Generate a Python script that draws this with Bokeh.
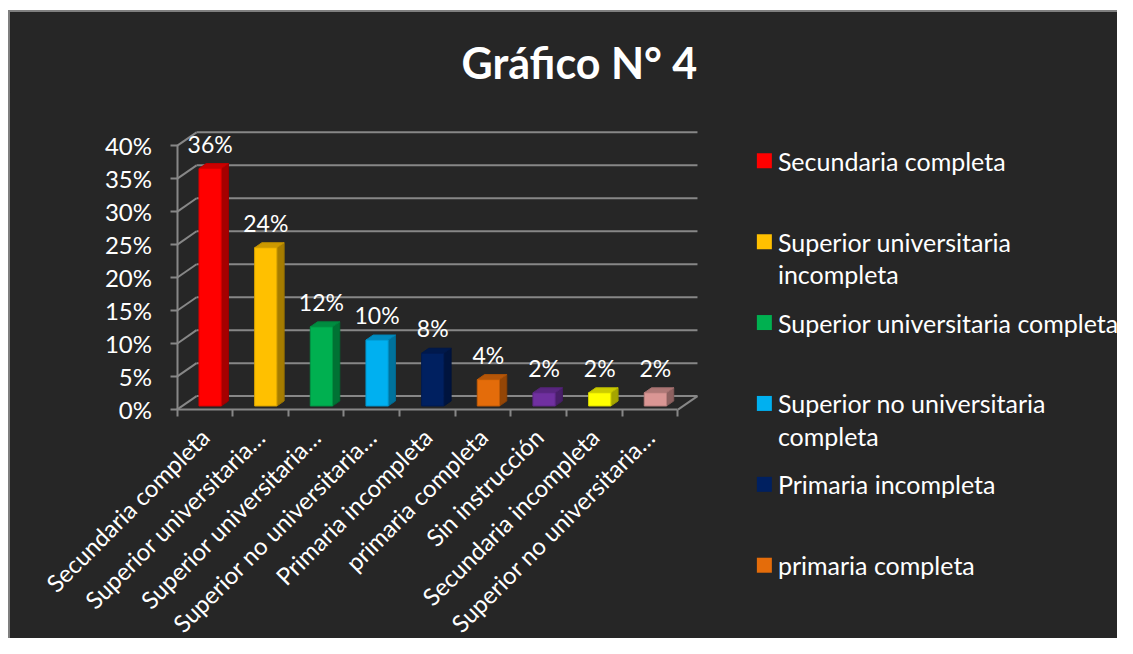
import math
from bokeh.plotting import figure
from bokeh.models import Range1d, FixedTicker, PrintfTickFormatter
from bokeh.embed import file_html
from bokeh.resources import INLINE
from bokeh.core.properties import value

# ---------------- data ----------------
categories = ["Secundaria completa", "Superior universitaria incompleta",
              "Superior universitaria completa", "Superior no universitaria completa",
              "Primaria incompleta", "primaria completa", "Sin instrucción",
              "Secundaria incompleta", "Superior no universitaria incompleta"]
values = [36, 24, 12, 10, 8, 4, 2, 2, 2]
tick_labels = ["Secundaria completa", "Superior universitaria…", "Superior universitaria…",
               "Superior no universitaria…", "Primaria incompleta", "primaria completa",
               "Sin instrucción", "Secundaria incompleta", "Superior no universitaria…"]
colors = ["#FF0000", "#FFC000", "#00B050", "#00B0F0", "#002060",
          "#E46C0A", "#7030A0", "#FFFF00", "#DA9694"]
legend_lines = [["Secundaria completa"],
                ["Superior universitaria", "incompleta"],
                ["Superior universitaria completa"],
                ["Superior no universitaria", "completa"],
                ["Primaria incompleta"],
                ["primaria completa"]]
y_ticks = [0, 5, 10, 15, 20, 25, 30, 35, 40]
title_text = "Gráfico N° 4"

# ---------------- style ----------------
BG = "#262626"
GRID = "#878787"
FONT = "Lato"
ML, MT = 10, 12            # canvas position in the picture (white margin left / top)
W, H = 1107, 626           # canvas size
BORDER = 2                 # grey chart border on left / top
TOP = 80                   # title panel height
PX_X = 55.56               # pixels per category
PX_Y = 6.57                # pixels per percent
AX_X, AX_Y = 176.2, 408.0  # picture position of the front axes corner
DX = 19.5 / PX_X           # depth of the 3D box in x units
DY = 13.5 / PX_Y           # depth of the 3D box in y units
F0, F1 = 0.27, 0.64        # bar depth span
BW = 0.40                  # bar width (category units)


def px_x(px):
    return (px - AX_X) / PX_X


def px_y(py):
    return (AX_Y - py) / PX_Y


def shade(c, f):
    r, g, b = int(c[1:3], 16), int(c[3:5], 16), int(c[5:7], 16)
    return "#%02x%02x%02x" % (int(r * f), int(g * f), int(b * f))


p = figure(width=W + BORDER, height=H + BORDER, output_backend="svg",
           toolbar_location=None,
           x_range=Range1d(px_x(ML), px_x(ML + W)),
           y_range=Range1d(px_y(MT + H), px_y(MT + TOP)),
           min_border_left=0, min_border_right=0, min_border_bottom=0,
           min_border_top=TOP, background_fill_color=BG, border_fill_color=BG,
           outline_line_color=None, margin=(MT - BORDER, 0, 0, ML - BORDER),
           styles={"background-color": BG,
                   "border-left": f"{BORDER}px solid #7f7f7f",
                   "border-top": f"{BORDER}px solid #7f7f7f"})
p.grid.visible = False

n = len(values)

# back wall grid lines, left wall diagonals, floor right edge
gy = [t + DY for t in y_ticks]
p.segment(x0=[DX] * len(y_ticks), y0=gy, x1=[n + DX] * len(y_ticks), y1=gy,
          line_color=GRID, line_width=2)
p.segment(x0=[0] * len(y_ticks), y0=y_ticks, x1=[DX] * len(y_ticks), y1=gy,
          line_color=GRID, line_width=2)
p.segment(x0=[n], y0=[0], x1=[n + DX], y1=[DY], line_color=GRID, line_width=2)

# bars
left = [i + (1 - BW) / 2 + F0 * DX for i in range(n)]
right = [l + BW for l in left]
bot = F0 * DY
top = [v + F0 * DY for v in values]
ddx = (F1 - F0) * DX
ddy = (F1 - F0) * DY

side_xs = [[r, r + ddx, r + ddx, r] for r in right]
side_ys = [[bot, bot + ddy, t + ddy, t] for t in top]
p.patches(side_xs, side_ys, fill_color=[shade(c, 0.65) for c in colors],
          line_color=[shade(c, 0.6) for c in colors], line_width=1)
top_xs = [[l, r, r + ddx, l + ddx] for l, r in zip(left, right)]
top_ys = [[t, t, t + ddy, t + ddy] for t in top]
p.patches(top_xs, top_ys, fill_color=[shade(c, 0.8) for c in colors],
          line_color=[shade(c, 0.75) for c in colors], line_width=1)
p.quad(left=left, right=right, bottom=bot, top=top, fill_color=colors,
       line_color=[shade(c, 0.85) for c in colors], line_width=1)

# data labels
p.text(x=[(l + r) / 2 for l, r in zip(left, right)], y=top,
       text=[f"{v}%" for v in values], text_align="center", text_baseline="middle",
       y_offset=-25, text_color="white", text_font=value(FONT), text_font_size="23px")

# axes (drawn at the front corner of the 3D box)
ya = p.yaxis[0]
ya.fixed_location = 0
ya.ticker = FixedTicker(ticks=y_ticks, minor_ticks=[])
ya.formatter = PrintfTickFormatter(format="%d%%")
ya.bounds = (0, 40)
ya.axis_line_color = GRID
ya.axis_line_width = 2
ya.major_tick_line_color = GRID
ya.major_tick_line_width = 2
ya.major_tick_out = 7
ya.major_tick_in = 0
ya.major_label_standoff = 18
ya.major_label_text_color = "white"
ya.major_label_text_font = FONT
ya.major_label_text_font_size = "24px"

xa = p.xaxis[0]
xa.fixed_location = 0
centers = [i + 0.5 for i in range(n)]
xa.ticker = FixedTicker(ticks=centers, minor_ticks=list(range(n + 1)))
xa.major_label_overrides = {c: t for c, t in zip(centers, tick_labels)}
xa.bounds = (0, n)
xa.axis_line_color = GRID
xa.axis_line_width = 2
xa.major_tick_line_color = None
xa.minor_tick_line_color = GRID
xa.minor_tick_line_width = 2
xa.minor_tick_out = 7
xa.minor_tick_in = 0
xa.major_label_orientation = math.pi / 4
xa.major_label_standoff = 16
xa.major_label_text_color = "white"
xa.major_label_text_font = FONT
xa.major_label_text_font_size = "24px"

# title
p.title.text = title_text
p.title.align = "left"
p.title.offset = 451
p.title.standoff = 10
p.title.text_color = "white"
p.title.text_font = FONT
p.title.text_font_style = "bold"
p.title.text_font_size = "43px"

# legend (drawn manually, first 6 entries as in the original)
LEG_SQ_X, LEG_TXT_X, LEG_Y0, LEG_STEP, LINE_STEP = 762.5, 776, 160, 80.6, 32
sq_x, sq_y, sq_c = [], [], []
tx, ty, tt = [], [], []
for k, lines in enumerate(legend_lines):
    yc = LEG_Y0 + k * LEG_STEP
    sq_x.append(px_x(LEG_SQ_X))
    sq_y.append(px_y(yc))
    sq_c.append(colors[k])
    for j, line in enumerate(lines):
        tx.append(px_x(LEG_TXT_X))
        ty.append(px_y(yc + j * LINE_STEP))
        tt.append(line)
p.rect(x=sq_x, y=sq_y, width=15, height=15, width_units="screen",
       height_units="screen", fill_color=sq_c, line_color=None)
p.text(x=tx, y=ty, text=tt, text_align="left", text_baseline="middle",
       text_color="white", text_font=value(FONT), text_font_size="25px")

open("out.html", "w").write(file_html(p, INLINE))
